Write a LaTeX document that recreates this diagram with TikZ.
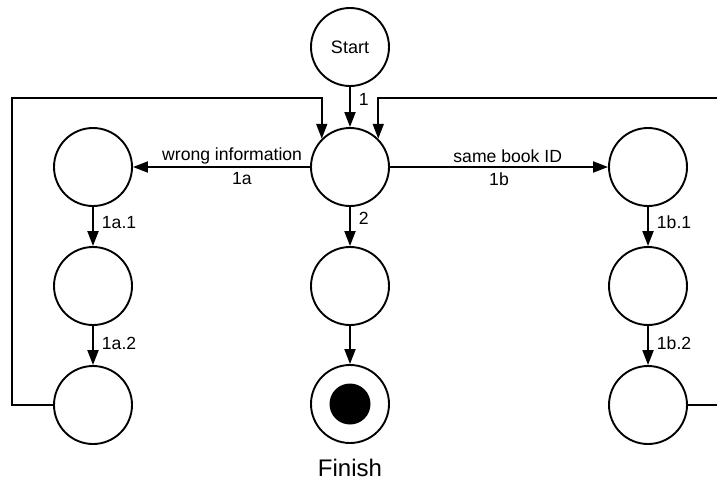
\documentclass[tikz,border=0pt]{standalone}
\usepackage{fontspec}
\setmainfont{Liberation Sans}
\usetikzlibrary{arrows.meta}
\begin{document}
\begin{tikzpicture}[x=1pt,y=-1pt,
  state/.style={circle,draw,line width=1.9pt,minimum size=78pt,inner sep=0pt,font=\fontsize{18}{21}\selectfont},
  conn/.style={line width=1.9pt,-{Triangle[length=15pt,width=11pt]}},
  lbl/.style={font=\fontsize{17.6}{20}\selectfont,inner sep=1pt},
  vlbl/.style={lbl,anchor=west,xshift=7pt}]
\useasboundingbox (0,0) rectangle (717,482);
\node[state] (start) at (350,47) {Start};
\node[state] (mid) at (350,167) {};
\node[state] (l1) at (93,167) {};
\node[state] (l2) at (93,286) {};
\node[state] (l3) at (93,405) {};
\node[state] (m2) at (350,286) {};
\node[state] (fin) at (350,404) {};
\fill (fin.center) circle (20.5pt);
\node[state] (r1) at (648,167) {};
\node[state] (r2) at (648,286) {};
\node[state] (r3) at (648,405) {};
\node[font=\fontsize{24}{27}\selectfont] (finlbl) at (350,468) {Finish};
\coordinate (lcorner) at (12,98);
\coordinate (rcorner) at (722,98);
\draw[conn] (start) -- node[vlbl,pos=0.3] {1} (mid);
\draw[conn] (mid) -- node[lbl,pos=0.44,yshift=11pt] {wrong information} node[lbl,pos=0.385,yshift=-12pt] {1a} (l1);
\draw[conn] (mid) -- node[lbl,pos=0.54,yshift=11pt] {same book ID} node[lbl,pos=0.5,yshift=-12pt] {1b} (r1);
\draw[conn] (l1) -- node[vlbl,pos=0.4] {1a.1} (l2);
\draw[conn] (l2) -- node[vlbl,pos=0.45] {1a.2} (l3);
\draw[conn] (mid) -- node[vlbl,pos=0.3] {2} (m2);
\draw[conn] (m2) -- (fin);
\draw[conn] (r1) -- node[vlbl,pos=0.4] {1b.1} (r2);
\draw[conn] (r2) -- node[vlbl,pos=0.45] {1b.2} (r3);
\draw[conn] (l3.west) -| (lcorner) -| (mid.135);
\draw[conn] (r3.east) -| (rcorner) -| (mid.45);
\end{tikzpicture}
\end{document}
